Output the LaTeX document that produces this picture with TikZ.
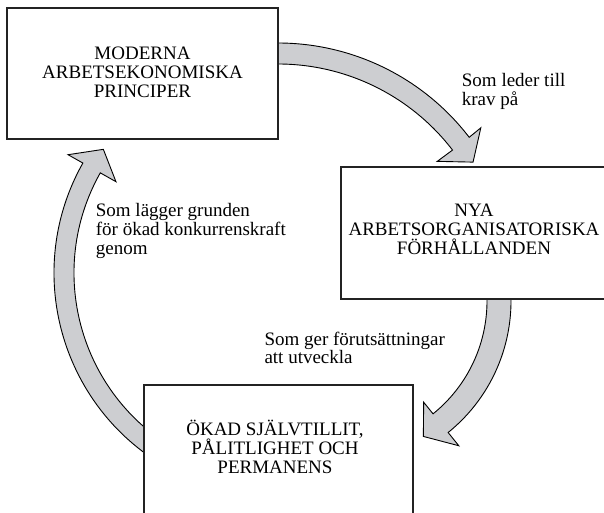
\documentclass[tikz,border=0pt]{standalone}
\usepackage{fontspec}
\setmainfont{Liberation Serif}
\usetikzlibrary{calc}
\definecolor{arrowgray}{RGB}{205,206,209}
\definecolor{boxline}{RGB}{35,35,35}
\newcommand{\centerlines}[1]{\parbox[t]{300pt}{\centering\lineskiplimit=-50pt #1}}
\newcommand{\leftlines}[1]{\parbox[t]{220pt}{\raggedright\lineskiplimit=-50pt #1}}
\begin{document}
\begin{tikzpicture}[x=1pt,y=1pt,
  box/.style={draw=boxline, line width=1.2pt, fill=white, inner sep=0pt, rectangle},
  bigarrow/.style={fill=arrowgray, draw=black, line width=0.9pt, line join=miter},
  txt/.style={inner sep=0pt, font=\fontsize{19}{18.7}\selectfont}]
\useasboundingbox (0,0) rectangle (604,512);
\clip (0,0) rectangle (604,512);

% centres of the curved block arrows
\coordinate (c1) at (278,228);
\coordinate (c2) at (342,211);
\coordinate (c3) at (278,239);

% arrow 1: top box -> right box
\draw[bigarrow] ($(c1)+(95:241)$) arc[start angle=95, end angle=37.5, radius=241]
  -- ($(c1)+(37.6:256)$) -- ($(c1)+(32:230)$) -- ($(c1)+(37.6:201)$)
  -- ($(c1)+(37.5:220)$) arc[start angle=37.5, end angle=95, radius=220] -- cycle;

% arrow 2: right box -> bottom box
\draw[bigarrow] ($(c2)+(8:169)$) arc[start angle=8, end angle=-51.1, radius=169]
  -- ($(c2)+(-51.1:186)$) -- ($(c2)+(-59:158)$) -- ($(c2)+(-51.1:130)$)
  -- ($(c2)+(-51.1:145)$) arc[start angle=-51.1, end angle=8, radius=145] -- cycle;

% arrow 3: bottom box -> top box
\draw[bigarrow] ($(c3)+(240:224)$) arc[start angle=240, end angle=150.6, radius=224]
  -- ($(c3)+(150.6:241)$) -- ($(c3)+(144.7:214)$) -- ($(c3)+(150.6:186)$)
  -- ($(c3)+(150.6:204)$) arc[start angle=150.6, end angle=240, radius=204] -- cycle;

% boxes
\node[box, minimum width=271pt, minimum height=131pt] (b1) at (142.5,438.5) {};
\node[box, minimum width=267pt, minimum height=132pt] (b2) at (474.5,279) {};
\node[box, minimum width=269pt, minimum height=131pt] (b3) at (278.5,61.5) {};

% box texts
\node[txt, anchor=base] (t1) at (142.5,452) {\centerlines{MODERNA\\ARBETSEKONOMISKA\\PRINCIPER}};
\node[txt, anchor=base] (t2) at (474,295.3) {\centerlines{NYA\\ARBETSORGANISATORISKA\\FÖRHÅLLANDEN}};
\node[txt, anchor=base] (t3) at (275,76.3) {\centerlines{ÖKAD SJÄLVTILLIT,\\PÅLITLIGHET OCH\\PERMANENS}};

% arrow labels
\node[txt, anchor=base west] (l1) at (461.7,425.3) {\leftlines{Som leder till\\krav på}};
\node[txt, anchor=base west] (l2) at (264.3,167) {\leftlines{Som ger förutsättningar\\att utveckla}};
\node[txt, anchor=base west] (l3) at (95.7,295.3) {\leftlines{Som lägger grunden\\för ökad konkurrenskraft\\genom}};
\end{tikzpicture}
\end{document}
